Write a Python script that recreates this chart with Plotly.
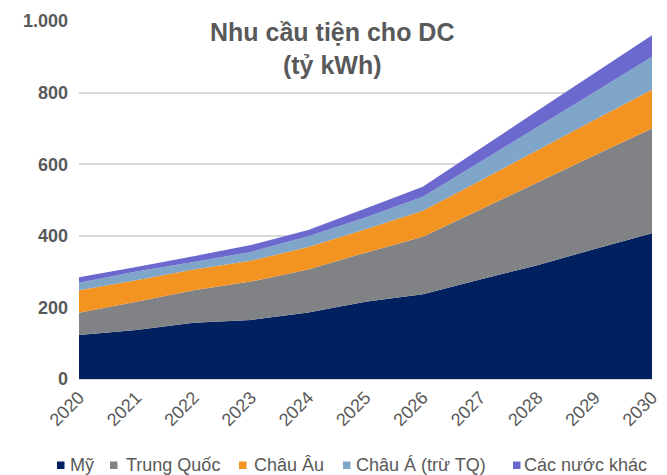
import plotly.graph_objects as go

# Data (billion kWh)
years = [2020, 2021, 2022, 2023, 2024, 2025, 2026, 2027, 2028, 2029, 2030]
my = [123, 137, 157, 165, 186, 216, 237, 278, 318, 363, 407]
trung_quoc = [62, 79, 91, 107, 120, 137, 160, 195, 231, 262, 293]
chau_au = [63, 60, 58, 58, 63, 65, 73, 81, 90, 99, 108]
chau_a = [21, 24, 21, 25, 30, 33, 39, 52, 65, 78, 92]
khac = [15, 13, 16, 19, 17, 25, 28, 37, 45, 53, 60]

names = ["Mỹ", "Trung Quốc", "Châu Âu", "Châu Á (trừ TQ)", "Các nước khác"]
series = [my, trung_quoc, chau_au, chau_a, khac]
colors = ["#002060", "#818285", "#F39322", "#7FA6C8", "#6B68CE"]

# page body has an 8px margin, plot area sits at x 79..652, y 21..379
W, H = 659, 467
L, T, R, B = 71, 13, 15, 96
pw = W - L - R
ph = H - T - B


def px_x(x):
    # page pixel -> paper x
    return (x - 8 - L) / pw


def px_y(y):
    return (H - B - (y - 8)) / ph


fig = go.Figure()

for name, vals, col in zip(names, series, colors):
    fig.add_trace(go.Scatter(
        x=years, y=vals, name=name, stackgroup="one",
        mode="none", fillcolor=col, showlegend=False,
        hovertemplate="%{x}: %{y}<extra>" + name + "</extra>",
    ))

# hand-placed legend: small squares + labels below the axis
marker_left = [57, 110, 239, 343, 513]
text_left = [69, 125, 253, 355, 523]
shapes = []
annotations = []
for name, col, mx, tx in zip(names, colors, marker_left, text_left):
    shapes.append(dict(type="rect", xref="paper", yref="paper",
                       x0=px_x(mx), x1=px_x(mx + 7.5),
                       y0=px_y(469), y1=px_y(461.5),
                       fillcolor=col, line_width=0))
    annotations.append(dict(text=name, xref="paper", yref="paper",
                            x=px_x(tx - 1), y=px_y(465), xanchor="left",
                            yanchor="middle", showarrow=False,
                            font=dict(size=18, color="#595959")))

annotations.append(dict(
    text="<b>Nhu cầu tiện cho DC<br>(tỷ kWh)</b>",
    xref="paper", yref="paper", x=px_x(332), y=px_y(48),
    xanchor="center", yanchor="middle", showarrow=False,
    font=dict(size=25, color="#595959"),
    bgcolor="white", borderpad=5,
))

fig.update_layout(
    width=W, height=H,
    margin=dict(l=L, r=R, t=T, b=B, autoexpand=False),
    paper_bgcolor="white", plot_bgcolor="white",
    font=dict(family="Arial, Liberation Sans, sans-serif", color="#595959"),
    showlegend=False,
    shapes=shapes,
    annotations=annotations,
)

fig.update_xaxes(
    range=[2020, 2030], tickvals=years, ticktext=[str(y) for y in years],
    tickangle=-45, tickfont=dict(size=18, color="#595959"),
    showgrid=False, showline=True, linecolor="#D9D9D9", ticks="",
    zeroline=False, automargin=False,
)
fig.update_yaxes(
    range=[0, 1000], tickvals=[0, 200, 400, 600, 800, 1000],
    ticktext=["0", "200", "400", "600", "800", "1.000"],
    tickfont=dict(size=18, color="#595959", weight="bold"),
    showgrid=True, gridcolor="#D9D9D9", gridwidth=1.5,
    zeroline=False, ticks="", ticklabelstandoff=10, automargin=False,
)

fig.write_html("out.html")
